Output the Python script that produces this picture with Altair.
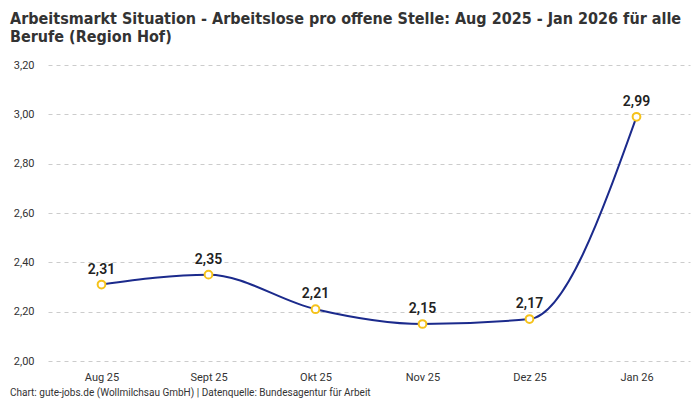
import altair as alt
import pandas as pd

months = ["Aug 25", "Sept 25", "Okt 25", "Nov 25", "Dez 25", "Jan 26"]
values = [2.31, 2.35, 2.21, 2.15, 2.17, 2.99]
labels = ["2,31", "2,35", "2,21", "2,15", "2,17", "2,99"]
y_ticks = [2.0, 2.2, 2.4, 2.6, 2.8, 3.0, 3.2]
title_lines = ["Arbeitsmarkt Situation - Arbeitslose pro offene Stelle: Aug 2025 - Jan 2026 für alle",
               "Berufe (Region Hof)"]
footer_text = "Chart: gute-jobs.de (Wollmilchsau GmbH) | Datenquelle: Bundesagentur für Arbeit"

df = pd.DataFrame({"Monat": months, "Wert": values, "Label": labels})

FONT = "Roboto"
TITLE_FONT = "DejaVu Sans Condensed, Roboto"

x = alt.X("Monat:N", sort=months, title=None,
          scale=alt.Scale(type="point", padding=0.5),
          axis=alt.Axis(labelAngle=0, labelFontSize=11, labelColor="#333",
                        labelFont=FONT, labelPadding=10, ticks=False,
                        domain=False, grid=False))
y = alt.Y("Wert:Q", title=None,
          scale=alt.Scale(domain=[2.0, 3.2], nice=False, zero=False),
          axis=alt.Axis(values=y_ticks, labelExpr="replace(format(datum.value, '.2f'), '.', ',')",
                        labelFontSize=11, labelColor="#333", labelFont=FONT,
                        labelPadding=14, ticks=False, domain=False,
                        grid=True, gridColor="#cccccc", gridDash=[4, 4],
                        gridWidth=1))

base = alt.Chart(df)

line = base.mark_line(interpolate="monotone", color="#1b2a8c", strokeWidth=2).encode(x=x, y=y)
points = base.mark_point(shape="circle", filled=True, fill="white", stroke="#f5c21b",
                         strokeWidth=2, size=60, opacity=1).encode(x=x, y=y)
text = base.mark_text(dy=-15, fontSize=14, fontWeight=600, color="#222",
                      font=FONT).encode(x=x, y=y, text="Label:N")

title1 = alt.Chart(pd.DataFrame({"t": [title_lines[0]]})).mark_text(
    align="left", baseline="alphabetic", fontSize=16, fontWeight="bold", color="#333", font=TITLE_FONT
).encode(x=alt.value(-38), y=alt.value(-41), text="t:N")
title2 = alt.Chart(pd.DataFrame({"t": [title_lines[1]]})).mark_text(
    align="left", baseline="alphabetic", fontSize=16, fontWeight="bold", color="#333", font=TITLE_FONT
).encode(x=alt.value(-38), y=alt.value(-23), text="t:N")

footer = alt.Chart(pd.DataFrame({"t": [footer_text]})).mark_text(
    align="left", baseline="alphabetic", fontSize=10, color="#333", font=FONT
).encode(x=alt.value(-38), y=alt.value(331), text="t:N")

chart = alt.layer(line, points, text, title1, title2, footer).properties(
    width=642, height=296,
    autosize=alt.AutoSizeParams(type="none"),
    padding={"left": 40, "top": 57, "right": 2, "bottom": 45},
).configure_view(stroke=None)

chart.save("out.html", embed_options={"renderer": "svg", "actions": False})
